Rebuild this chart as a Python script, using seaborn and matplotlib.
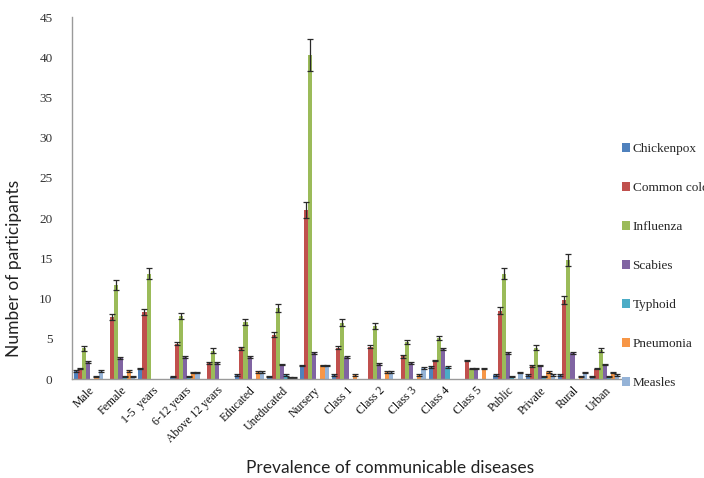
import numpy as np
import pandas as pd
import matplotlib
matplotlib.use("Agg")
import matplotlib.pyplot as plt
import seaborn as sns
from matplotlib.patches import Patch

categories = ["Male", "Female", "1-5  years", "6-12 years", "Above 12 years",
              "Educated", "Uneducated", "Nursery", "Class 1", "Class 2",
              "Class 3", "Class 4", "Class 5", "Public", "Private", "Rural", "Urban"]
diseases = ["Chickenpox", "Common cold", "Influenza", "Scabies", "Typhoid",
            "Pneumonia", "Measles"]

chickenpox  = [1.0, 0.0, 1.3, 0.3, 0.0, 0.5, 0.3, 1.7, 0.5, 0.0, 0.0, 1.5, 0.0, 0.5, 0.5, 0.5, 0.3]
common_cold = [1.3, 7.7, 8.3, 4.4, 2.0, 3.8, 5.5, 21.0, 3.9, 4.0, 2.8, 2.3, 2.3, 8.5, 1.6, 9.8, 1.3]
influenza   = [3.8, 11.7, 13.1, 7.8, 3.5, 7.1, 8.8, 40.3, 7.0, 6.6, 4.6, 5.1, 1.3, 13.1, 3.9, 14.8, 3.6]
scabies     = [2.1, 2.6, 0.0, 2.7, 2.0, 2.7, 1.8, 3.2, 2.7, 1.9, 2.0, 3.7, 1.3, 3.2, 1.7, 3.2, 1.8]
typhoid     = [0.0, 0.3, 0.0, 0.3, 0.0, 0.0, 0.5, 0.0, 0.0, 0.0, 0.0, 1.5, 0.0, 0.3, 0.3, 0.0, 0.3]
pneumonia   = [0.3, 1.0, 0.0, 0.8, 0.0, 0.9, 0.2, 1.7, 0.5, 0.9, 0.5, 0.0, 1.3, 0.0, 0.9, 0.3, 0.8]
measles     = [1.0, 0.3, 0.0, 0.8, 0.0, 0.9, 0.2, 1.7, 0.0, 0.9, 1.4, 0.0, 0.0, 0.8, 0.5, 0.8, 0.5]

err_chickenpox  = [0.1, 0.0, 0.1, 0.1, 0.0, 0.1, 0.1, 0.1, 0.1, 0.0, 0.0, 0.1, 0.0, 0.1, 0.1, 0.1, 0.1]
err_common_cold = [0.1, 0.4, 0.4, 0.2, 0.1, 0.2, 0.3, 1.0, 0.2, 0.2, 0.2, 0.1, 0.1, 0.4, 0.1, 0.5, 0.1]
err_influenza   = [0.3, 0.6, 0.7, 0.4, 0.3, 0.4, 0.5, 2.0, 0.4, 0.4, 0.3, 0.3, 0.1, 0.7, 0.3, 0.8, 0.3]
err_scabies     = [0.1, 0.1, 0.0, 0.1, 0.1, 0.1, 0.1, 0.1, 0.1, 0.1, 0.1, 0.1, 0.1, 0.1, 0.1, 0.1, 0.1]
err_typhoid     = [0.0, 0.1, 0.0, 0.1, 0.0, 0.0, 0.1, 0.0, 0.0, 0.0, 0.0, 0.1, 0.0, 0.1, 0.1, 0.0, 0.1]
err_pneumonia   = [0.1, 0.1, 0.0, 0.1, 0.0, 0.1, 0.1, 0.1, 0.1, 0.1, 0.1, 0.0, 0.1, 0.0, 0.1, 0.1, 0.1]
err_measles     = [0.1, 0.1, 0.0, 0.1, 0.0, 0.1, 0.1, 0.1, 0.0, 0.1, 0.1, 0.0, 0.0, 0.1, 0.1, 0.1, 0.1]

series = [chickenpox, common_cold, influenza, scabies, typhoid, pneumonia, measles]
errors = [err_chickenpox, err_common_cold, err_influenza, err_scabies, err_typhoid,
          err_pneumonia, err_measles]
colors = ["#4F81BD", "#C0504D", "#9BBB59", "#8064A2", "#4BACC6", "#F79646", "#95B3D7"]

rows = []
for d, vals in zip(diseases, series):
    for c, v in zip(categories, vals):
        rows.append({"category": c, "disease": d, "value": v})
df = pd.DataFrame(rows)

sns.set_theme(style="white")
serif = ["Liberation Serif", "DejaVu Serif"]
sansf = ["Lato", "DejaVu Sans"]

fig = plt.figure(figsize=(7.04, 4.78), dpi=100)
ax = fig.add_axes([72 / 704, 1 - 379 / 478, 549 / 704, (379 - 17) / 478])

sns.barplot(data=df, x="category", y="value", hue="disease", order=categories,
            hue_order=diseases, palette=colors, saturation=1, width=0.9,
            errorbar=None, ax=ax, linewidth=0, legend=False)

for cont, errs in zip(ax.containers, errors):
    xs, ys, es = [], [], []
    for bar, e in zip(cont.patches, errs):
        if e > 0 and bar.get_height() > 0:
            xs.append(bar.get_x() + bar.get_width() / 2)
            ys.append(bar.get_height())
            es.append(e)
    if xs:
        ax.errorbar(xs, ys, yerr=es, fmt="none", ecolor="#2a2a2a",
                    elinewidth=0.9, capsize=2.2, capthick=0.9)

ax.set_ylim(0, 45)
ax.set_yticks(range(0, 46, 5))
ax.set_xlim(-0.5, len(categories) - 0.5)
for s in ["top", "right"]:
    ax.spines[s].set_visible(False)
for s in ["left", "bottom"]:
    ax.spines[s].set_color("#9a9a9a")
    ax.spines[s].set_linewidth(1.0)
ax.tick_params(axis="both", length=0)
ax.set_yticklabels([str(v) for v in range(0, 46, 5)], family=serif, fontsize=9.5,
                   color="#333333")
ax.tick_params(axis="y", pad=14)
ax.set_xticks(range(len(categories)))
ax.set_xticklabels(categories, rotation=45, ha="right", rotation_mode="anchor",
                   family=serif, fontsize=8.5, color="#111111")
ax.tick_params(axis="x", pad=4)

ax.set_xlabel("Prevalence of communicable diseases", family=sansf, fontsize=12.5,
              color="#222222")
ax.xaxis.set_label_coords((390 - 72) / 549, -(460 - 379) / 362)
ax.set_ylabel("Number of participants", family=sansf, fontsize=12.5, color="#222222")
ax.yaxis.set_label_coords(-(72 - 22) / 549, (379 - 268) / 362)

handles = [Patch(facecolor=c, edgecolor="none") for c in colors]
fig.legend(handles, diseases, loc="upper left",
           bbox_to_anchor=(622 / 704, 1 - 143 / 478), frameon=False,
           prop={"family": serif, "size": 9.5}, handlelength=0.6, handleheight=0.6,
           handletextpad=0.2, labelspacing=2.05, borderpad=0, borderaxespad=0)

fig.savefig("out.png", dpi=100)
